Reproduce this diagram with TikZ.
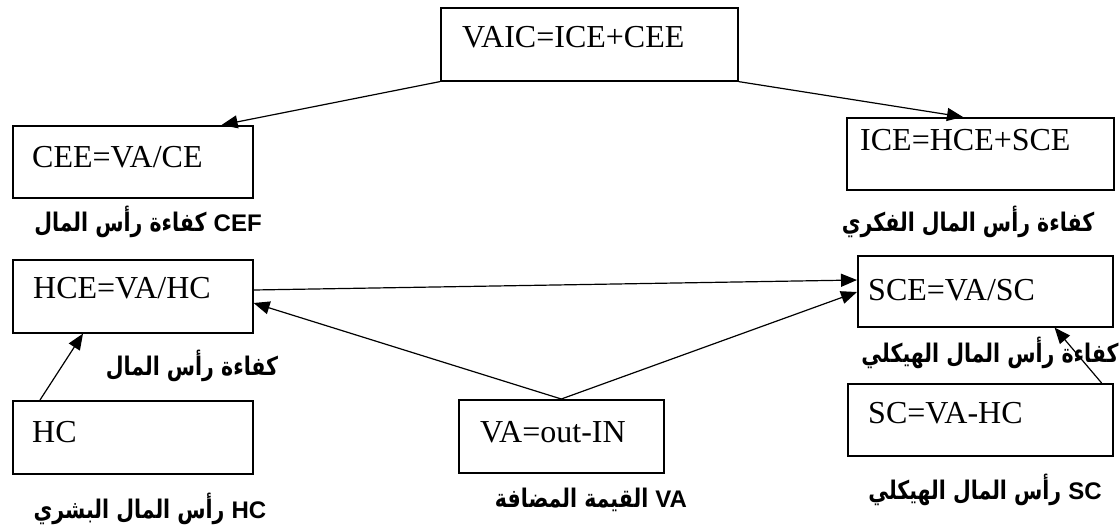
\documentclass[tikz,border=0pt]{standalone}
\usepackage{fontspec}
\setmainfont{Liberation Serif}
\newfontfamily\arabicfont[Script=Arabic]{DejaVu Sans}
\newfontfamily\latinbold{Liberation Sans}
\newcommand\lat[1]{\beginL{\fontsize{24}{24}\selectfont\latinbold\bfseries\scalebox{1}[0.8]{#1}}\endL}
\newcommand\arlabel[1]{\scalebox{1}[1.25]{\arabicfont\beginR #1\endR}}
\TeXXeTstate=1
\usetikzlibrary{arrows.meta}
\begin{document}
\begin{tikzpicture}[x=1pt,y=-1pt,
  box/.style={draw,line width=1.6pt,inner sep=0pt,anchor=north west},
  formula/.style={anchor=base west,inner sep=0pt,font=\fontsize{32}{32}\selectfont},
  lbl/.style={inner sep=0pt,font=\fontsize{20.5}{24}\selectfont\bfseries},
  arr/.style={line width=1.2pt,-{Triangle[length=16pt,width=13pt]}}]
\useasboundingbox (0,0) rectangle (1119,527);
% boxes
\node[box,minimum width=297pt,minimum height=73pt] (vaic) at (440,7) {};
\node[box,minimum width=240pt,minimum height=72pt] (cee) at (12,125) {};
\node[box,minimum width=267pt,minimum height=72pt] (ice) at (846,117) {};
\node[box,minimum width=240pt,minimum height=73pt] (hce) at (12,259) {};
\node[box,minimum width=255pt,minimum height=71pt] (sce) at (857,255) {};
\node[box,minimum width=240pt,minimum height=73pt] (hc) at (12,400) {};
\node[box,minimum width=205pt,minimum height=73pt] (va) at (458,399) {};
\node[box,minimum width=265pt,minimum height=72pt] (sc) at (847,383) {};
% formulas
\node[formula] (tvaic) at (462,48) {VAIC=ICE+CEE};
\node[formula] (tcee) at (32,167) {CEE=VA/CE};
\node[formula] (tice) at (860,150) {ICE=HCE+SCE};
\node[formula] (thce) at (33,298) {HCE=VA/HC};
\node[formula] (tsce) at (868,300) {SCE=VA/SC};
\node[formula] (thc) at (32,442) {HC};
\node[formula] (tva) at (480,442) {VA=out-IN};
\node[formula] (tsc) at (868,423) {SC=VA-HC};
% labels
\node[lbl] (lcee) at (148,222) {\arlabel{\lat{CEF} كفاءة رأس المال}};
\node[lbl] (lice) at (968,222) {\arlabel{كفاءة رأس المال الفكري}};
\node[lbl] (lhce) at (192,366) {\arlabel{كفاءة رأس المال}};
\node[lbl] (lsce) at (990,353) {\arlabel{كفاءة رأس المال الهيكلي}};
\node[lbl] (lhc) at (150,509) {\arlabel{\lat{HC} رأس المال البشري}};
\node[lbl] (lva) at (591,500) {\arlabel{\lat{VA} القيمة المضافة}};
\node[lbl] (lsc) at (985,490) {\arlabel{\lat{SC} رأس المال الهيكلي}};
% connectors
\coordinate (ceeIn) at ([xshift=-32pt]cee.north east);
\coordinate (iceIn) at ([xshift=117pt]ice.north west);
\draw[arr] (vaic.south west) -- (ceeIn);
\draw[arr] (vaic.south east) -- (iceIn);
\coordinate (hceOut) at ([yshift=-31pt]hce.north east);
\coordinate (sceIn1) at ([yshift=-25pt]sce.north west);
\draw[arr] (hceOut) -- (sceIn1);
\coordinate (hceIn) at ([yshift=-44pt]hce.north east);
\coordinate (sceIn2) at ([yshift=-37pt]sce.north west);
\draw[arr] (va.north) -- (hceIn);
\draw[arr] (va.north) -- (sceIn2);
\coordinate (hcOut) at ([xshift=28pt]hc.north west);
\coordinate (hceIn2) at ([xshift=71pt]hce.south west);
\draw[arr] (hcOut) -- (hceIn2);
\coordinate (scOut) at ([xshift=-12pt]sc.north east);
\coordinate (sceIn3) at ([xshift=-59pt]sce.south east);
\draw[arr] (scOut) -- (sceIn3);
\end{tikzpicture}
\end{document}
